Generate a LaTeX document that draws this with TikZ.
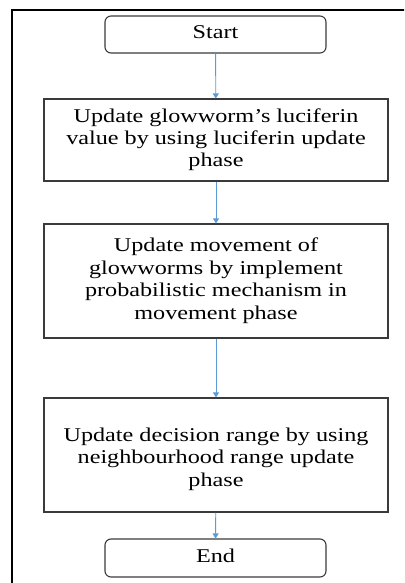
\documentclass[tikz,border=0pt]{standalone}
\usepackage{fontspec}
\setmainfont{Liberation Serif}
\usepackage{graphicx}
\usetikzlibrary{arrows.meta}
\definecolor{arrowblue}{HTML}{5B9BD5}
\definecolor{boxgray}{HTML}{3A3A3A}
\newcommand{\ftxt}[1]{\scalebox{1.24}[1]{\begin{tabular}{@{}c@{}}#1\end{tabular}}}
\tikzset{
  procbox/.style={draw=boxgray, line width=1.1pt, minimum width=344pt, inner sep=0pt, align=center,
    font=\fontsize{19.5}{22.5}\selectfont},
  termbox/.style={draw=boxgray, line width=1.1pt, rounded corners=6pt, minimum width=221pt, minimum height=37pt,
    inner sep=0pt, font=\fontsize{19.5}{22.5}\selectfont},
  flow/.style={draw=arrowblue, line width=0.9pt, -{Triangle[width=6pt,length=5pt]}}
}
\begin{document}
\begin{tikzpicture}[x=1pt,y=-1pt]
\useasboundingbox (0,0) rectangle (404,583);
\clip (0,0) rectangle (404,583);
\draw[line width=2.6pt, black] (12,590) -- (12,10) -- (410,10);
\node[termbox] (start) at (215.5,34.5) {\ftxt{Start}};
\node[procbox, minimum height=82pt] (b1) at (216,140) {\ftxt{Update glowworm’s luciferin\\value by using luciferin update\\phase}};
\node[procbox, minimum height=114pt] (b2) at (216,281) {\ftxt{Update movement of\\glowworms by implement\\probabilistic mechanism in\\movement phase}};
\node[procbox, minimum height=114pt] (b3) at (216,455) {};
\node at (216,459) {\fontsize{19.5}{22.5}\selectfont\ftxt{Update decision range by using\\neighbourhood range update\\phase}};
\node[termbox, minimum height=38pt] (end) at (215.5,558) {\ftxt{End}};
\draw[flow] (start) -- (b1);
\draw[flow] (b1) -- (b2);
\draw[flow] (b2) -- (b3);
\draw[flow] (b3) -- (end);
\end{tikzpicture}
\end{document}
